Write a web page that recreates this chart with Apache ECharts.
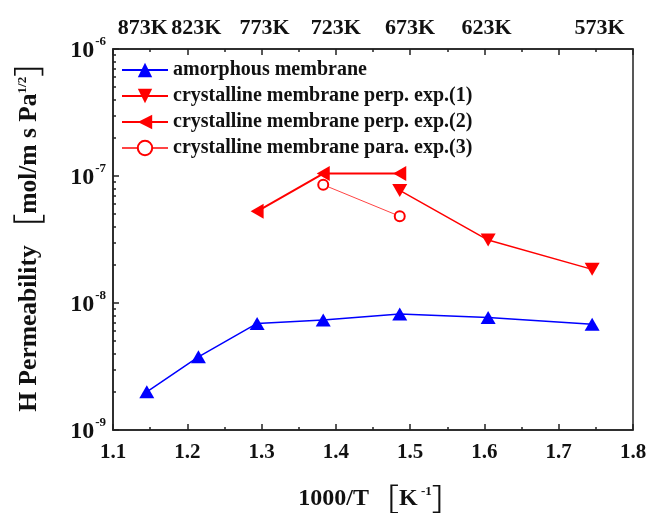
<!DOCTYPE html>
<html>
<head>
<meta charset="utf-8">
<script src="https://cdn.jsdelivr.net/npm/echarts@6/dist/echarts.min.js"></script>
<style>html,body{margin:0;padding:0;background:#fff;}#c{width:659px;height:513px;}</style>
</head>
<body>
<div id="c"></div>
<script>
// ---- data ----
var amorphousX = [1.1455, 1.215, 1.294, 1.383, 1.486, 1.605, 1.745];
var amorphousY = [2.0e-9, 3.77e-9, 6.9e-9, 7.35e-9, 8.2e-9, 7.7e-9, 6.8e-9];
var exp1X = [1.486, 1.605, 1.745];
var exp1Y = [7.7e-8, 3.13e-8, 1.84e-8];
var exp2X = [1.294, 1.383, 1.486];
var exp2Y = [5.27e-8, 1.045e-7, 1.045e-7];
var exp3X = [1.383, 1.486];
var exp3Y = [8.53e-8, 4.82e-8];
var topLabels = ['873K', '823K', '773K', '723K', '673K', '623K', '573K'];
var topLabelPos = [1.14, 1.212, 1.304, 1.40, 1.50, 1.603, 1.755];
var seriesNames = ['amorphous membrane', 'crystalline membrane perp. exp.(1)',
  'crystalline membrane perp. exp.(2)', 'crystalline membrane para. exp.(3)'];
var yMinorLog = [];
[-9, -8, -7].forEach(function (e) {
  for (var k = 2; k <= 9; k++) yMinorLog.push(e + Math.log10(k));
});

function pairs(xs, ys) { return xs.map(function (x, i) { return [x, ys[i]]; }); }

var FONT = 'Liberation Serif';
var chart = echarts.init(document.getElementById('c'), null, { renderer: 'canvas' });
var downTri = 'path://M0,0 L14,0 L7,12 Z';
var leftTri = 'path://M0,7 L12,0 L12,14 Z';
function nameRich(fs) {
  return {
    br: { fontFamily: 'Noto Sans CJK SC', fontWeight: 'normal', fontSize: fs + 6, color: '#111' },
    sup: { fontFamily: FONT, fontWeight: 'bold', fontSize: 13, color: '#111', padding: [0, 0, 14, 0] }
  };
}

var option = {
  backgroundColor: '#fff',
  animation: false,
  grid: { left: 113, right: 26, top: 49, bottom: 83, outerBoundsMode: 'none', containLabel: false,
    show: true, borderColor: '#222', borderWidth: 1.5, backgroundColor: 'transparent' },
  legend: {
    orient: 'vertical', left: 116, top: 55, itemWidth: 46, itemHeight: 18, itemGap: 6,
    data: seriesNames,
    textStyle: { fontFamily: FONT, fontWeight: 'bold', fontSize: 20, color: '#111' }
  },
  xAxis: [{
    type: 'value', min: 1.1, max: 1.8, interval: 0.1, position: 'bottom',
    axisLine: { show: true, lineStyle: { color: '#222', width: 1.5 } },
    axisTick: { show: true, inside: true, length: 6, lineStyle: { color: '#222', width: 1.5 } },
    minorTick: { show: true, splitNumber: 2, length: 3, lineStyle: { color: '#222', width: 1.5 } },
    splitLine: { show: false },
    axisLabel: { margin: 12, fontFamily: FONT, fontWeight: 'bold', fontSize: 21, color: '#111',
      formatter: function (v) { return v.toFixed(1); } },
    name: '1000/T{br|［}K{sup| -1}{br|］}', nameLocation: 'middle', nameGap: 54,
    nameTextStyle: { fontFamily: FONT, fontWeight: 'bold', fontSize: 24, color: '#111', padding: [0, 0, 0, 14], rich: nameRich(24) }
  }, {
    type: 'value', min: 1.1, max: 1.8, interval: 0.1, position: 'top',
    axisLine: { show: true, lineStyle: { color: '#222', width: 1.5 } },
    axisTick: { show: true, inside: true, length: 6, lineStyle: { color: '#222', width: 1.5 } },
    minorTick: { show: true, splitNumber: 2, length: 3, lineStyle: { color: '#222', width: 1.5 } },
    splitLine: { show: false },
    axisLabel: { show: true, margin: 10, customValues: topLabelPos, fontFamily: FONT, fontWeight: 'bold', fontSize: 22, color: '#111',
      formatter: function (v) {
        var best = 0;
        for (var i = 1; i < topLabelPos.length; i++) if (Math.abs(topLabelPos[i] - v) < Math.abs(topLabelPos[best] - v)) best = i;
        return topLabels[best];
      } }
  }],
  yAxis: [{
    type: 'log', min: 1e-9, max: 1e-6, logBase: 10,
    axisLine: { show: true, lineStyle: { color: '#222', width: 1.5 } },
    axisTick: { show: true, inside: true, length: 6, lineStyle: { color: '#222', width: 1.5 } },
    splitLine: { show: false },
    axisLabel: { margin: 7, color: '#111',
      formatter: function (v) { return '{a|10}{b|' + Math.round(Math.log10(v)) + '}'; },
      rich: { a: { fontFamily: FONT, fontWeight: 'bold', fontSize: 24, color: '#111', padding: [4, 0, 0, 0] },
              b: { fontFamily: FONT, fontWeight: 'bold', fontSize: 13, color: '#111', padding: [0, 0, 14, 1] } } },
    name: 'H Permeability{br|［}mol/m s Pa{sup|1/2}{br|］}', nameLocation: 'middle', nameGap: 68, nameRotate: 90,
    nameTextStyle: { fontFamily: FONT, fontWeight: 'bold', fontSize: 25.5, color: '#111', padding: [0, 0, 0, 22], rich: nameRich(25.5) }
  }, {
    type: 'value', min: -9, max: -6, position: 'left',
    axisLine: { show: false }, splitLine: { show: false }, axisLabel: { show: false },
    axisTick: { show: true, inside: true, length: 3, customValues: yMinorLog, lineStyle: { color: '#222', width: 1.5 } }
  }],
  series: [{
    name: seriesNames[0], type: 'line', data: pairs(amorphousX, amorphousY),
    symbol: 'triangle', symbolSize: [15, 13], color: '#0000ff',
    itemStyle: { color: '#0000ff' }, lineStyle: { color: '#0000ff', width: 1.5 }
  }, {
    name: seriesNames[1], type: 'line', data: pairs(exp1X, exp1Y),
    symbol: downTri, symbolSize: [15, 13], color: '#ff0000',
    itemStyle: { color: '#ff0000' }, lineStyle: { color: '#ff0000', width: 1.5 }
  }, {
    name: seriesNames[2], type: 'line', data: pairs(exp2X, exp2Y),
    symbol: leftTri, symbolSize: [13, 15], color: '#ff0000',
    itemStyle: { color: '#ff0000' }, lineStyle: { color: '#ff0000', width: 2 }
  }, {
    name: seriesNames[3], type: 'line', data: pairs(exp3X, exp3Y),
    symbol: 'circle', symbolSize: 10, color: '#ff2020',
    itemStyle: { color: '#fff', borderColor: '#ff0000', borderWidth: 2 }, lineStyle: { color: '#ff4444', width: 1 }
  }]
};
chart.setOption(option);
</script>
</body>
</html>
